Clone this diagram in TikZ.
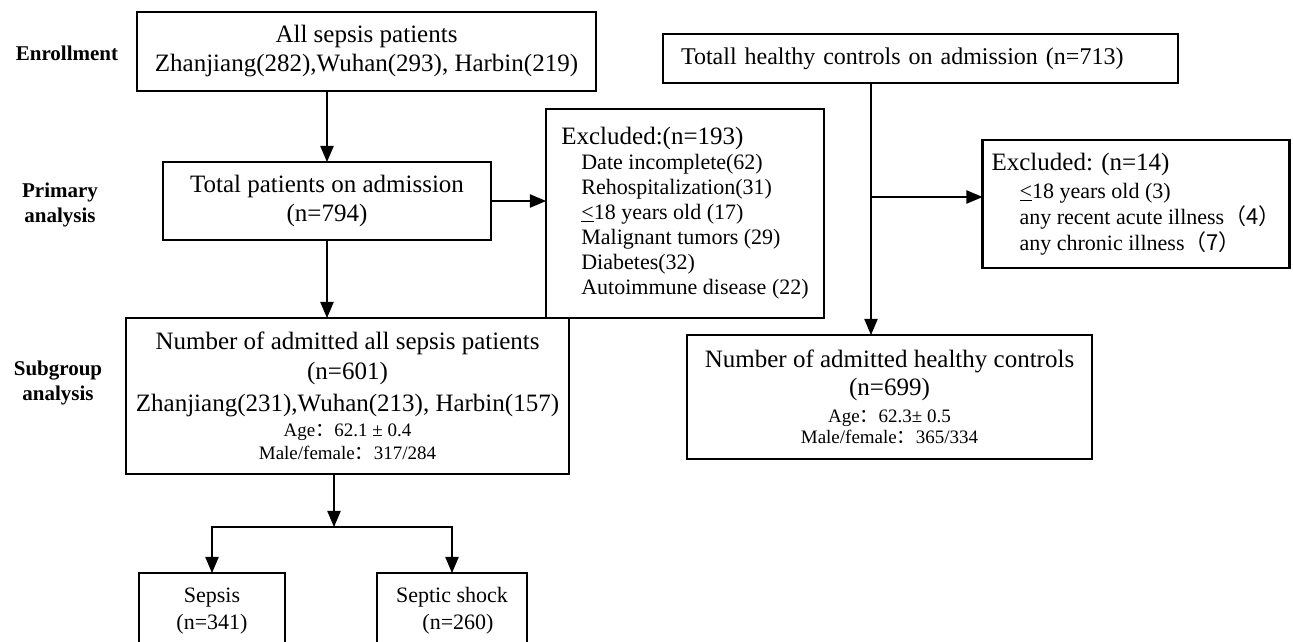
\documentclass[tikz,border=0pt]{standalone}
\usepackage{fontspec}
\setmainfont{Liberation Serif}
\newfontfamily\cjk{Noto Sans CJK SC}
\usepackage{tikz}
\usetikzlibrary{shapes,arrows}
\definecolor{ink}{RGB}{0,0,0}
\newcommand\bigtxt{\fontsize{25}{29}\selectfont}
\newcommand\midtxt{\fontsize{22}{25}\selectfont}
\newcommand\smalltxt{\fontsize{19}{22}\selectfont}
\newcommand\fw[1]{{\cjk #1}}
\newcommand\uless{\underline{<}}

\begin{document}
\begin{tikzpicture}[x=1pt, y=-1pt]%
  \tikzset{normal arrow/.style={draw,-triangle 45,line width=2.8pt,ink}}
  \tikzstyle{every node}=[text=ink, inner sep=0pt, outer sep=0pt]
  \tikzstyle{box}=[draw=ink, line width=2.6pt, fill=white]
  \tikzstyle{stage}=[font=\fontsize{21}{25}\selectfont\bfseries, align=center]

  \useasboundingbox (0,0) rectangle (1293,641);
  \clip (0,0) rectangle (1293,641);

  % stage labels
  \node[stage] at (67,53) (ENR) {Enrollment};
  \node[stage] at (60,205) (PRI) {Primary\\analysis};
  \node[stage] at (58,383) (SUB) {Subgroup\\analysis};

  % sepsis patients
  \node[box, minimum width=459, minimum height=79, align=center, font=\bigtxt] at (366.5,51.5) (ALL) {All sepsis patients\\Zhanjiang(282),Wuhan(293), Harbin(219)};
  \node[box, minimum width=328, minimum height=78, align=center, font=\bigtxt] at (327,201) (TOT) {Total patients on admission\\(n=794)};
  \node[box, minimum width=278, minimum height=209, align=left, font=\midtxt] at (685,213.5) (EXA) {{\bigtxt Excluded:(n=193)}\\
    \hspace*{20pt}Date incomplete(62)\\
    \hspace*{20pt}Rehospitalization(31)\\
    \hspace*{20pt}\uless18 years old (17)\\
    \hspace*{20pt}Malignant tumors (29)\\
    \hspace*{20pt}Diabetes(32)\\
    \hspace*{20pt}Autoimmune disease (22)};
  \node[box, minimum width=443, minimum height=156, align=center, font=\bigtxt] at (347.5,396) (NUM) {Number of admitted all sepsis patients\\[1pt]
    (n=601)\\[3pt]
    Zhanjiang(231),Wuhan(213), Harbin(157)\\[-4pt]
    {\smalltxt Age\fw{：}62.1 ± 0.4}\\[-6pt]
    {\smalltxt Male/female\fw{：}317/284}};
  \node[box, minimum width=146, minimum height=76, align=center, font=\midtxt] at (212,611) (SEP) {Sepsis\\[2pt](n=341)};
  \node[box, minimum width=150, minimum height=76, align=center, font=\midtxt] at (452,611) (SHK) {Septic shock\\[2pt]\hspace*{12pt}(n=260)};

  % healthy controls
  \node[box, minimum width=515, minimum height=49, inner xsep=18pt, text width=479pt, align=left, font=\fontsize{24}{28}\selectfont] at (920.5,58.5) (HC) {Totall healthy controls on admission (n=713)};
  \node[box, minimum width=307, minimum height=128, align=left, font=\midtxt] at (1136,204) (EXB) {{\bigtxt Excluded: (n=14)}\\[3pt]
    \hspace*{28pt}\uless18 years old (3)\\[1pt]
    \hspace*{28pt}any recent acute illness\fw{（4）}\\[1pt]
    \hspace*{28pt}any chronic illness\fw{（7）}};
  \node[box, minimum width=405, minimum height=124, align=center, font=\bigtxt] at (889.5,397) (HCN) {Number of admitted healthy controls\\[-1pt]
    (n=699)\\[-2pt]
    {\smalltxt Age\fw{：}62.3± 0.5}\\[-8pt]
    {\smalltxt Male/female\fw{：}365/334}};

  \coordinate (HCS) at (871,197);
  \coordinate (SPL) at (334,527);

  \path[normal arrow] (ALL.south -| TOT.north) -- (TOT.north);
  \path[normal arrow] (TOT.east) -- (TOT.east -| EXA.west);
  \path[normal arrow] (TOT.south) -- (TOT.south |- NUM.north);
  \path[normal arrow] (HC.south -| HCS) -- (HCN.north -| HCS);
  \path[normal arrow] (HCS) -- (HCS -| EXB.west);
  \path[normal arrow] (NUM.south -| SPL) -- (SPL);
  \path[normal arrow] (SPL) -| (SEP.north);
  \path[normal arrow] (SPL) -| (SHK.north);
\end{tikzpicture}
\end{document}
